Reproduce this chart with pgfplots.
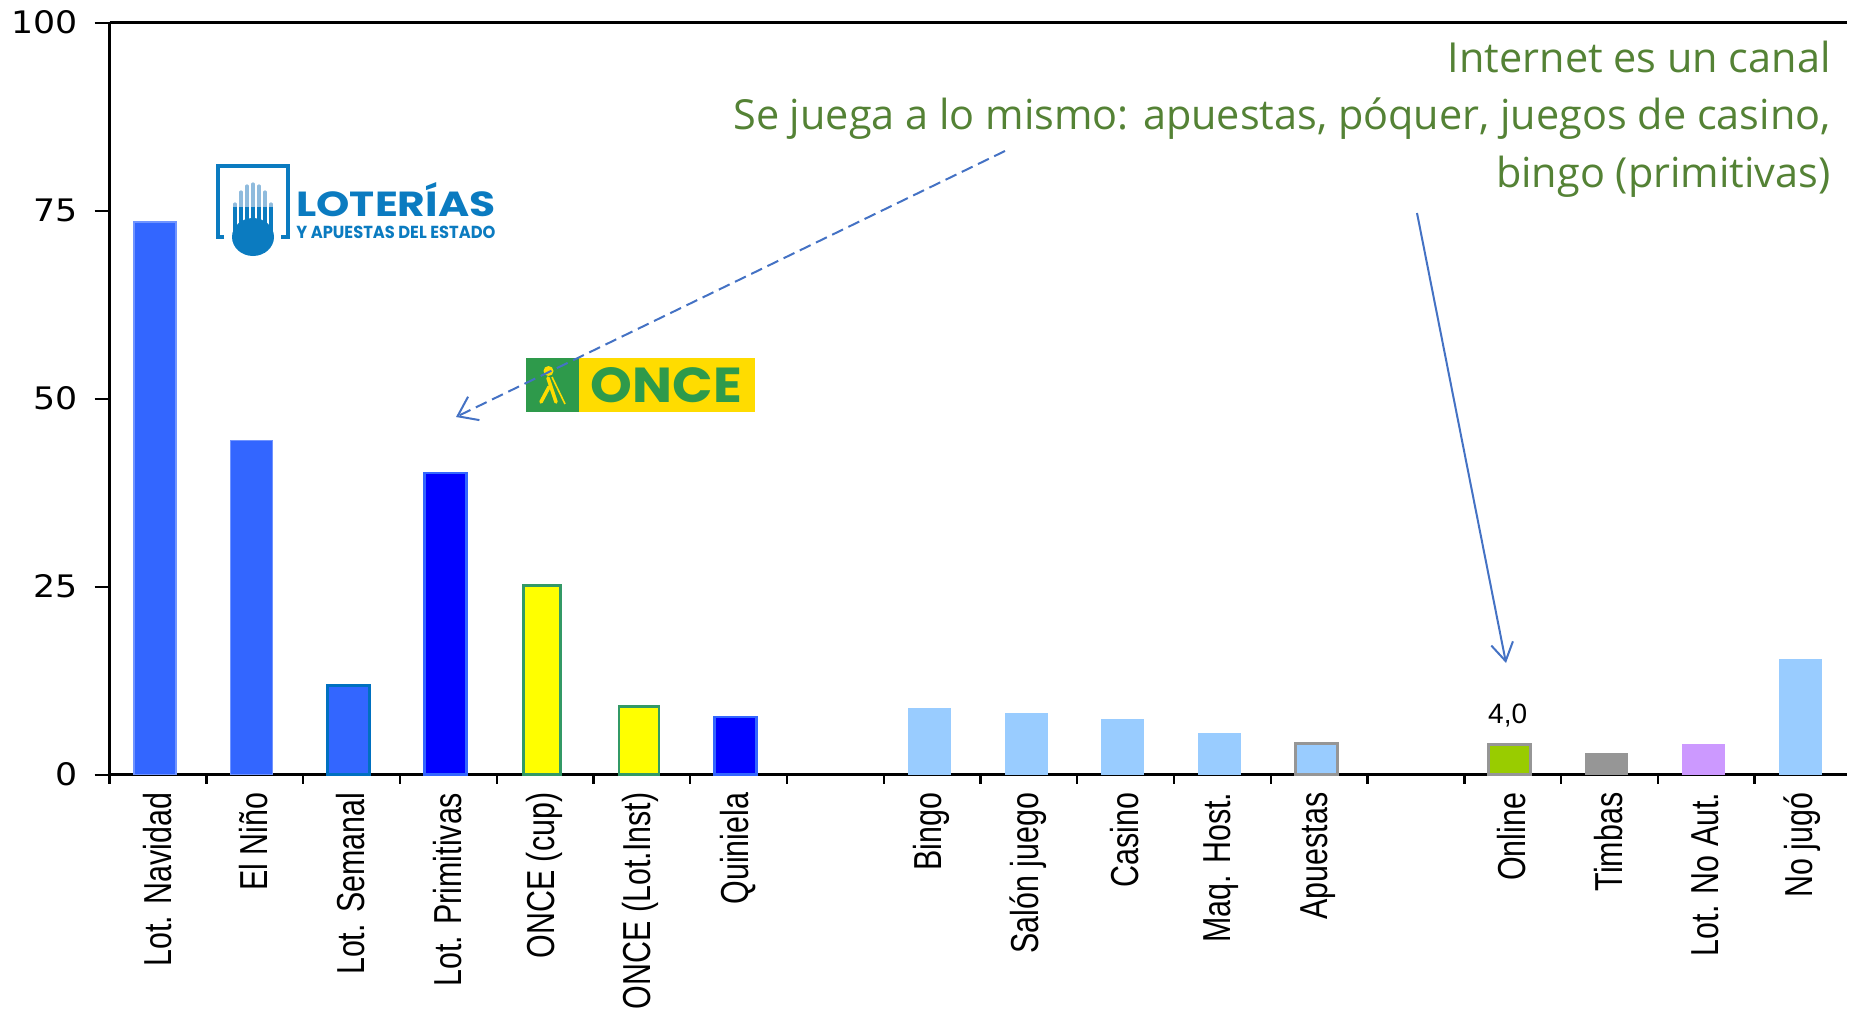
\documentclass[border=0pt]{standalone}
\usepackage{pgfplots}
\pgfplotsset{compat=1.18}
\usepackage{fontspec}
\usepackage{graphicx}
\usetikzlibrary{arrows.meta}
\setmainfont{Liberation Sans}
\newfontfamily\labf[FakeStretch=0.78]{Liberation Sans}
\newfontfamily\numf[FakeStretch=1.12]{DejaVu Sans}
\newfontfamily\notef{Open Sans}
\newfontfamily\logof{Poppins}
\definecolor{bluebar}{HTML}{3366FF}
\definecolor{lightbar}{HTML}{99CCFF}
\definecolor{pure}{HTML}{0000FF}
\definecolor{pureyellow}{HTML}{FFFF00}
\definecolor{oncegreen}{HTML}{339966}
\definecolor{greybar}{HTML}{969696}
\definecolor{onlinebar}{HTML}{99CC00}
\definecolor{lilac}{HTML}{CC99FF}
\definecolor{semanal}{HTML}{0070C0}
\definecolor{notegreen}{HTML}{548235}
\definecolor{arrowblue}{HTML}{4472C4}
\definecolor{lotblue}{HTML}{0B7BC0}
\definecolor{lotlight}{HTML}{8FBBDD}
\definecolor{logogreen}{HTML}{2E9A4B}
\definecolor{logoyellow}{HTML}{FFDC00}
\begin{document}
\begin{tikzpicture}
\useasboundingbox (0pt,0pt) rectangle (924.5pt,-505.5pt);
\begin{axis}[
    at={(54.85pt,-387.35pt)}, anchor=south west,
    scale only axis, width=868.4pt, height=376pt,
    xmin=-0.5, xmax=17.45, ymin=0, ymax=100,
    ybar, bar width=21pt, bar shift=-1.5pt,
    axis lines=left, axis line style={-, black, line width=1.5pt},
    clip=false,
    xtick={0,1,2,3,4,5,6,8,9,10,11,12,14,15,16,17},
    xticklabels={Lot. Navidad,El Niño,Lot. Semanal,Lot. Primitivas,ONCE (cup),ONCE (Lot.Inst),Quiniela,Bingo,Salón juego,Casino,Maq. Host.,Apuestas,Online,Timbas,Lot. No Aut.,No jugó},
    minor xtick={-0.5,0.5,...,16.5},
    major x tick style={draw=none},
    minor x tick style={black, line width=1.2pt},
    minor tick length=4.5pt,
    tick align=outside,
    ytick={0,25,50,75,100},
    major y tick style={black, line width=1.2pt},
    major tick length=7.5pt,
    xticklabel style={font=\labf\fontsize{19.5}{20}\selectfont, rotate=90, anchor=east, xshift=2pt, yshift=0.5pt},
    yticklabel style={font=\numf\fontsize{15.5}{15.5}\selectfont, xshift=-5pt, /pgf/number format/assume math mode=true},
]
\addplot[fill=bluebar, draw=bluebar!70!white, line width=0.6pt] coordinates {(0,73.5)};
\addplot[fill=bluebar, draw=bluebar!70!white, line width=0.6pt] coordinates {(1,44.4)};
\addplot[fill=bluebar, draw=semanal, line width=1.3pt] coordinates {(2,11.9)};
\addplot[fill=pure, draw=bluebar, line width=1.3pt] coordinates {(3,40.1)};
\addplot[fill=pureyellow, draw=oncegreen, line width=1.3pt, bar width=18.5pt] coordinates {(4,25.2)};
\addplot[fill=pureyellow, draw=oncegreen, line width=1.3pt, bar width=20pt] coordinates {(5,9.1)};
\addplot[fill=pure, draw=bluebar, line width=1.3pt] coordinates {(6,7.7)};
\addplot[fill=lightbar, draw=lightbar] coordinates {(8,8.8)};
\addplot[fill=lightbar, draw=lightbar] coordinates {(9,8.2)};
\addplot[fill=lightbar, draw=lightbar] coordinates {(10,7.4)};
\addplot[fill=lightbar, draw=lightbar] coordinates {(11,5.5)};
\addplot[fill=lightbar, draw=greybar, line width=1.5pt] coordinates {(12,4.2)};
\addplot[fill=onlinebar, draw=greybar, line width=1.5pt,
    nodes near coords, point meta=y,
    nodes near coords style={font=\fontsize{14}{14}\selectfont, black, yshift=4.5pt, xshift=-1pt,
      /pgf/number format/.cd, fixed, fixed zerofill, precision=1, use comma, assume math mode=true}]
    coordinates {(14,4.0)};
\addplot[fill=greybar, draw=greybar] coordinates {(15,2.8)};
\addplot[fill=lilac, draw=lilac] coordinates {(16,4.0)};
\addplot[fill=lightbar, draw=lightbar] coordinates {(17,15.4)};
\draw[black, line width=1.5pt] (rel axis cs:0,1) -- (rel axis cs:1,1);
\end{axis}
\begin{scope}[x=0.5pt,y=-0.5pt]
% Loterias logo
\draw[lotblue, line width=2.2pt] (224,237) -- (218,237) -- (218,166) -- (288,166) -- (288,237) -- (281,237);
\foreach \xx/\tp in {235/204,241/192,247/186,253/184,259/186,265/192,271/204} {
  \draw[lotlight, line width=1.6pt, line cap=round] (\xx,\tp) -- (\xx,212);
  \draw[lotblue, line width=1.6pt] (\xx,207) -- (\xx,232);
}
\fill[lotblue] (253,237) ellipse (21 and 19);
\node[anchor=south west, inner sep=0pt, text=lotblue] at (296,217) {\resizebox{99.5pt}{17pt}{\logof\bfseries LOTERÍAS}};
\node[anchor=west, inner sep=0pt, text=lotblue] at (296,232) {\resizebox{99.5pt}{6.2pt}{\logof\bfseries Y APUESTAS DEL ESTADO}};
% ONCE logo
\fill[logoyellow] (526,358) rectangle (755,412);
\fill[logogreen] (526,358) rectangle (579,412);
\fill[logoyellow] (548.5,371) circle (5);
\draw[logoyellow, line width=1.8pt, line cap=round] (548,378) -- (556,402);
\draw[logoyellow, line width=1.8pt, line cap=round] (549,387) -- (541,402);
\draw[logoyellow, line width=0.8pt] (552,377) -- (565,404);
\node[inner sep=0pt, text=logogreen] at (666.5,385.5) {\resizebox{75.5pt}{17.5pt}{\logof\bfseries ONCE}};
% annotation
\node[anchor=east, inner sep=0pt, text=notegreen, align=right, font=\notef\fontsize{20.7}{28.8}\selectfont] at (1831,119)
  {Internet es un canal\\Se juega a lo mismo: apuestas, póquer, juegos de casino,\\bingo (primitivas)};
\draw[arrowblue, line width=1pt, dash pattern=on 6pt off 3pt, -{Straight Barb[length=9pt,width=13pt]}] (1005,151) -- (456,417);
\draw[arrowblue, line width=1pt, -{Straight Barb[length=9pt,width=11pt]}] (1417,213) -- (1506,663);
\end{scope}
\end{tikzpicture}
\end{document}
